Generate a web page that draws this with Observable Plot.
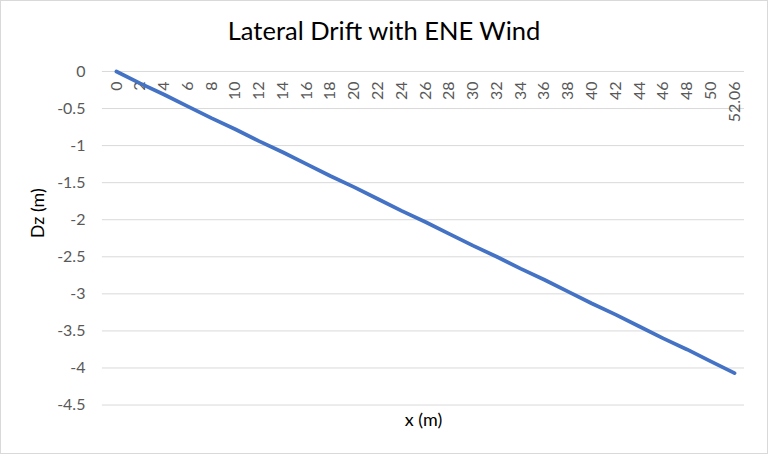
<!DOCTYPE html>
<html>
<head>
<meta charset="utf-8">
<script src="https://cdn.jsdelivr.net/npm/d3@7"></script>
<script src="https://cdn.jsdelivr.net/npm/@observablehq/plot@0.6"></script>
<style>
  html, body { margin: 0; padding: 0; background: #fff; }
  #chart { position: relative; width: 768px; height: 454px; box-sizing: border-box; border: 1px solid #d9d9d9; overflow: hidden; font-family: Lato, "Open Sans", sans-serif; }
  #title { position: absolute; left: 0; top: 0; width: 766px; height: 56px; text-align: center; font-size: 25.5px; line-height: 58px; color: #000; }
  #plot { position: absolute; left: -1px; top: 55px; }
</style>
</head>
<body>
<div id="chart">
  <div id="title">Lateral Drift with ENE Wind</div>
  <div id="plot"></div>
</div>
<script>
const xLabels = ["0","2","4","6","8","10","12","14","16","18","20","22","24","26","28","30","32","34","36","38","40","42","44","46","48","50","52.06"];
const dz = [0, -0.16, -0.31, -0.47, -0.63, -0.78, -0.94, -1.09, -1.25, -1.41, -1.56, -1.72, -1.88, -2.03, -2.19, -2.35, -2.50, -2.66, -2.81, -2.97, -3.13, -3.28, -3.44, -3.60, -3.75, -3.91, -4.07];
const yTicks = [0, -0.5, -1, -1.5, -2, -2.5, -3, -3.5, -4, -4.5];
const xTitle = "x (m)";
const yTitle = "Dz (m)";

// category index is used as the x position (Excel-style category axis)
const data = xLabels.map((label, i) => ({i, label, dz: dz[i]}));

const plot = Plot.plot({
  width: 768,
  height: 399,
  marginTop: 15,
  marginBottom: 50,
  marginLeft: 102,
  marginRight: 23,
  style: {fontFamily: "Lato, 'Open Sans', sans-serif", background: "transparent"},
  x: {type: "linear", domain: [-0.59, xLabels.length - 1 + 0.42], axis: null},
  y: {domain: [-4.5, 0], axis: null},
  marks: [
    Plot.gridY(yTicks, {stroke: "#d9d9d9", strokeOpacity: 1, strokeWidth: 1}),
    Plot.axisY(yTicks, {tickSize: 0, tickPadding: 17, tickFormat: d => String(d), fontSize: 16, fill: "#595959", label: null}),
    Plot.text(data, {x: "i", y: () => 0, text: "label", rotate: -90, textAnchor: "end", dy: 10, fontSize: 16, fill: "#595959"}),
    Plot.line(data, {x: "i", y: "dz", stroke: "#4472C4", strokeWidth: 3.75, strokeLinecap: "round", strokeLinejoin: "round"}),
    Plot.text([yTitle], {frameAnchor: "left", dx: -64, rotate: -90, fontSize: 18, fill: "#000"}),
    Plot.text([xTitle], {frameAnchor: "bottom", dy: 21, fontSize: 18, fill: "#000"})
  ]
});
document.getElementById("plot").appendChild(plot);
</script>
</body>
</html>
